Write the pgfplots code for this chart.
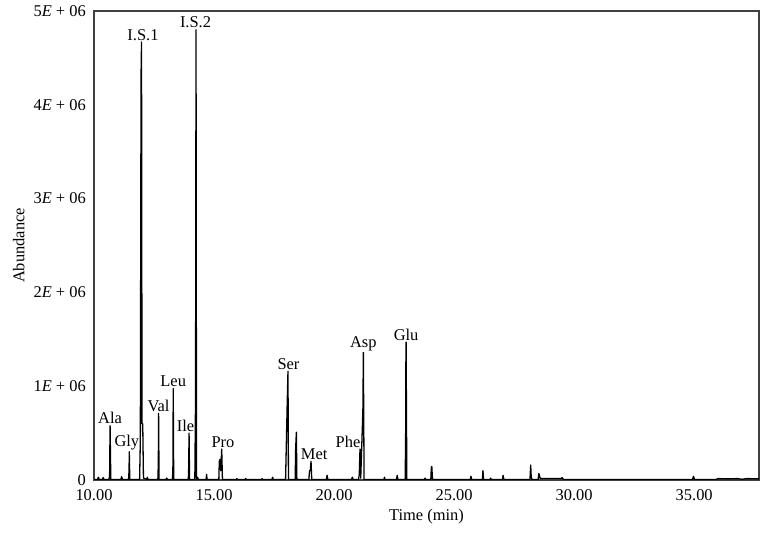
\documentclass[border=0pt]{standalone}
\usepackage{pgfplots}
\pgfplotsset{compat=1.18}
\usepackage{fontspec}
\setmainfont{Liberation Serif}
\begin{document}
\fontsize{16.5}{19}\selectfont
\begin{tikzpicture}[x=1bp,y=1bp]
\useasboundingbox (-94,-55) rectangle (676,480);
\begin{axis}[
  at={(0,0)}, anchor=south west, scale only axis,
  width=665bp, height=469bp,
  xmin=10, xmax=37.7, ymin=0, ymax=5,
  xtick={10,15,20,25,30,35},
  xticklabels={10.00,15.00,20.00,25.00,30.00,35.00},
  ytick={0,1,2,3,4,5},
  yticklabels={0,1\textit{E} + 06,2\textit{E} + 06,3\textit{E} + 06,4\textit{E} + 06,5\textit{E} + 06},
  major tick length=0pt,
  tick style={draw=none},
  axis line style={draw=black!75, line width=1.1bp},
  yticklabel style={inner sep=0pt, xshift=-8bp, font=\fontsize{16.5}{19}\selectfont},
  xticklabel style={inner sep=0pt, yshift=-9.5bp, font=\fontsize{16.5}{19}\selectfont},
  xlabel={Time (min)}, ylabel={Abundance},
  xlabel style={at={(axis description cs:0.5,-0.077)}, anchor=center, font=\fontsize{16.5}{19}\selectfont},
  ylabel style={at={(axis description cs:-0.113,0.5)}, anchor=center, font=\fontsize{16.5}{19}\selectfont},
  clip=true,
]
\addplot[black, line width=1.3bp, line join=round] table {
t y
10.00 0.006
10.15 0.006
10.18 0.03
10.22 0.006
10.35 0.006
10.38 0.025
10.42 0.006
10.62 0.006
10.65 0.04
10.67 0.58
10.70 0.006
11.12 0.006
11.15 0.035
11.19 0.006
11.44 0.006
11.46 0.10
11.47 0.30
11.49 0.006
11.90 0.006
11.93 0.42
11.96 4.31
11.98 4.67
12.00 0.60
12.03 0.60
12.06 0.02
12.20 0.006
12.22 0.03
12.25 0.006
12.66 0.006
12.68 0.18
12.69 0.71
12.71 0.006
13.00 0.006
13.03 0.02
13.06 0.006
13.27 0.006
13.29 0.17
13.30 0.975
13.32 0.006
13.92 0.006
13.94 0.06
13.96 0.50
13.98 0.006
14.20 0.006
14.23 0.88
14.25 4.80
14.27 0.006
14.31 0.03
14.35 0.006
14.67 0.006
14.69 0.06
14.71 0.006
15.20 0.006
15.22 0.20
15.25 0.22
15.28 0.10
15.32 0.33
15.35 0.006
15.93 0.006
15.95 0.015
15.97 0.006
16.30 0.006
16.32 0.015
16.34 0.006
16.98 0.006
17.00 0.015
17.02 0.006
17.41 0.006
17.44 0.03
17.47 0.006
17.98 0.006
18.05 0.84
18.08 1.16
18.10 0.006
18.38 0.006
18.40 0.34
18.43 0.51
18.45 0.006
18.95 0.006
18.98 0.10
19.01 0.10
19.04 0.20
19.07 0.006
19.68 0.006
19.71 0.05
19.74 0.006
20.73 0.006
20.76 0.03
20.79 0.006
21.02 0.006
21.05 0.06
21.08 0.33
21.11 0.02
21.20 0.74
21.22 1.36
21.25 0.006
22.08 0.006
22.10 0.03
22.12 0.006
22.60 0.006
22.63 0.05
22.66 0.006
22.96 0.006
22.98 0.40
22.99 1.22
23.00 1.47
23.03 0.006
23.76 0.006
23.79 0.02
23.82 0.006
24.03 0.006
24.05 0.13
24.07 0.145
24.10 0.006
25.68 0.006
25.70 0.04
25.73 0.006
26.18 0.006
26.20 0.10
26.23 0.006
26.50 0.006
26.52 0.02
26.55 0.006
27.02 0.006
27.04 0.05
27.07 0.006
28.16 0.006
28.19 0.16
28.21 0.04
28.24 0.006
28.50 0.006
28.53 0.07
28.58 0.02
28.65 0.015
29.45 0.015
29.50 0.025
29.55 0.006
34.93 0.006
34.97 0.04
35.01 0.006
35.90 0.006
36.00 0.015
36.40 0.012
36.80 0.015
37.00 0.008
37.20 0.015
37.70 0.012
};
\node[anchor=south, inner sep=1.5bp] at (axis cs:12.04,4.67) {I.S.1};
\node[anchor=south, inner sep=1.5bp] at (axis cs:14.23,4.80) {I.S.2};
\node[anchor=south, inner sep=1.5bp] at (axis cs:10.67,0.58) {Ala};
\node[anchor=south, inner sep=1.5bp] at (axis cs:11.37,0.30) {Gly};
\node[anchor=south, inner sep=1.5bp] at (axis cs:12.69,0.71) {Val};
\node[anchor=south, inner sep=1.5bp] at (axis cs:13.30,0.975) {Leu};
\node[anchor=south, inner sep=1.5bp] at (axis cs:13.81,0.50) {Ile};
\node[anchor=south, inner sep=1.5bp] at (axis cs:15.37,0.33) {Pro};
\node[anchor=south, inner sep=1.5bp] at (axis cs:18.10,1.16) {Ser};
\node[anchor=south, inner sep=1.5bp] at (axis cs:19.17,0.20) {Met};
\node[anchor=south, inner sep=1.5bp] at (axis cs:20.58,0.33) {Phe};
\node[anchor=south, inner sep=1.5bp] at (axis cs:21.22,1.36) {Asp};
\node[anchor=south, inner sep=1.5bp] at (axis cs:23.00,1.47) {Glu};
\end{axis}
\end{tikzpicture}
\end{document}
